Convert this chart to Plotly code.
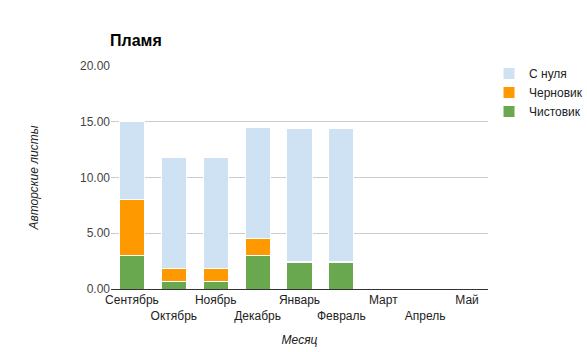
import plotly.graph_objects as go

months = ["Сентябрь", "Октябрь", "Ноябрь", "Декабрь", "Январь", "Февраль", "Март", "Апрель", "Май"]
clean = [3.0, 0.7, 0.7, 3.0, 2.35, 2.35, 0, 0, 0]
draft = [5.0, 1.1, 1.1, 1.5, 0.1, 0.1, 0, 0, 0]
scratch = [7.0, 10.0, 10.0, 10.0, 11.95, 11.95, 0, 0, 0]
tick_vals = [0, 5, 10, 15, 20]
tick_text = ["0.00", "5.00", "10.00", "15.00", "20.00"]

ticklabels = [m if i % 2 == 0 else "<br>" + m for i, m in enumerate(months)]

FONT = "Liberation Sans, Arial, sans-serif"
fig = go.Figure()
for name, vals, col in [("Чистовик", clean, "#6aa84f"),
                        ("Черновик", draft, "#ff9900"),
                        ("С нуля", scratch, "#cfe2f3")]:
    fig.add_trace(go.Bar(x=months, y=vals, name=name, marker_color=col,
                         marker_line_color="white", marker_line_width=1))

fig.update_layout(
    barmode="stack", bargap=0.4,
    width=587, height=352,
    margin=dict(l=111, r=99, t=66, b=63, autoexpand=False),
    paper_bgcolor="white", plot_bgcolor="white",
    font=dict(family=FONT, size=12, color="#444"),
    title=dict(text="<b>Пламя</b>", x=110/587, xanchor="left", y=1-40/352, yanchor="middle",
               font=dict(size=16, color="#000", family=FONT)),
    legend=dict(traceorder="reversed", xref="container", yref="container",
                x=489/587, xanchor="left", y=1-59/352, yanchor="top",
                font=dict(size=12, color="#222"), tracegroupgap=0, itemwidth=30),
    xaxis=dict(tickmode="array", tickvals=months, ticktext=ticklabels, showgrid=False,
               showline=True, linecolor="#333", linewidth=1, ticks="", tickangle=0,
               automargin=False,
               tickfont=dict(size=12, color="#222"),
               title=dict(text="<i>Месяц</i>", font=dict(size=12, color="#222"), standoff=13)),
    yaxis=dict(range=[0, 20], tickvals=tick_vals, ticktext=tick_text, showgrid=True,
               gridcolor="#cccccc", zeroline=False, ticks="", ticklen=0, automargin=False,
               tickfont=dict(size=12, color="#444"),
               title=dict(text="<i>Авторские листы</i>", font=dict(size=12, color="#222"), standoff=38)),
)
fig.write_html("out.html")
